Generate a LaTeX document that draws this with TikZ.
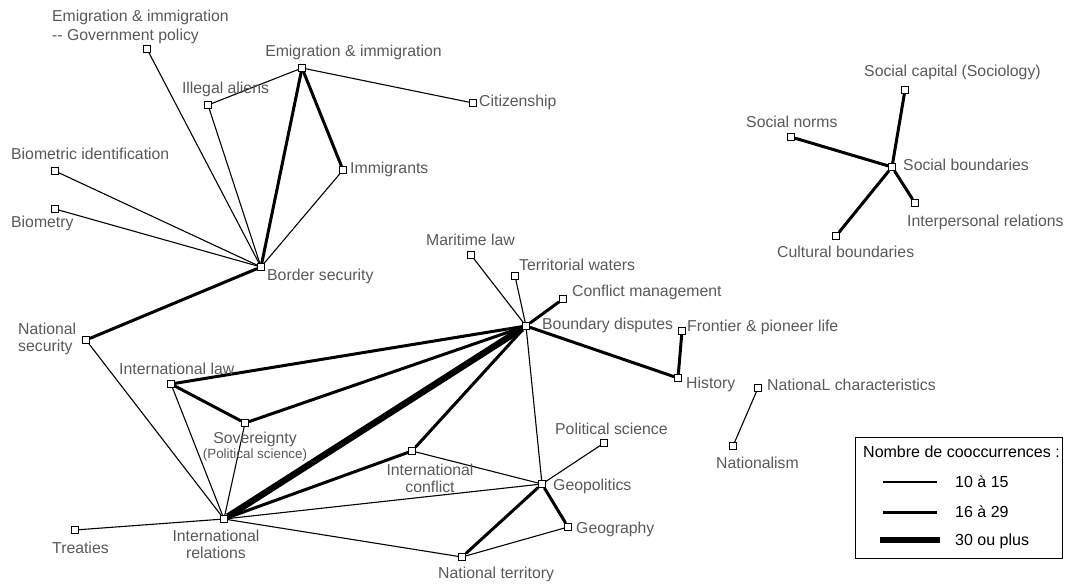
\documentclass[tikz,border=0pt]{standalone}
\usepackage{fontspec}
\setmainfont{Liberation Sans}
\definecolor{lbl}{gray}{0.35}
\begin{document}
\begin{tikzpicture}[x=1pt,y=-1pt,
  sq/.style={draw=black, fill=white, line width=0.8pt, minimum size=7pt, inner sep=0pt},
  lab/.style={text=lbl, font=\fontsize{15.8}{17}\selectfont, inner sep=0pt, text height=11pt, text depth=1pt, anchor=west},
  labm/.style={text=lbl, font=\fontsize{15.8}{17}\selectfont, inner sep=0pt},
  leg/.style={text=black, font=\fontsize{16}{18}\selectfont, inner sep=0pt, text height=11pt, text depth=1pt, anchor=west},
  ea/.style={line width=1.1pt},
  eb/.style={line width=3pt},
  ec/.style={line width=6.5pt},
]
\useasboundingbox (0,0) rectangle (1067,585);

% squares
\node[sq] (eg) at (147,49) {};
\node[sq] (em) at (302,68) {};
\node[sq] (ia) at (208,105) {};
\node[sq] (ci) at (473,103) {};
\node[sq] (bi) at (55,171) {};
\node[sq] (im) at (343,170) {};
\node[sq] (bm) at (55,209) {};
\node[sq] (bs) at (261,267) {};
\node[sq] (ns) at (86,340) {};
\node[sq] (il) at (171,384) {};
\node[sq] (so) at (245,423) {};
\node[sq] (ir) at (224,519) {};
\node[sq] (tr) at (75,530) {};
\node[sq] (ml) at (471,255) {};
\node[sq] (tw) at (515,276) {};
\node[sq] (cm) at (563,299) {};
\node[sq] (bd) at (526,326) {};
\node[sq] (fr) at (682,331) {};
\node[sq] (hi) at (678,378) {};
\node[sq] (nc) at (758,388) {};
\node[sq] (nm) at (733,446) {};
\node[sq] (ps) at (604,443) {};
\node[sq] (ic) at (412,451) {};
\node[sq] (gp) at (542,484) {};
\node[sq] (gg) at (568,527) {};
\node[sq] (nt) at (462,557) {};
\node[sq] (sc) at (905,90) {};
\node[sq] (sn) at (791,137) {};
\node[sq] (sb) at (892,167) {};
\node[sq] (ip) at (915,203) {};
\node[sq] (cb) at (836,236) {};

% thin edges
\draw[ea] (eg) -- (bs);
\draw[ea] (ia) -- (bs);
\draw[ea] (em) -- (ia);
\draw[ea] (em) -- (ci);
\draw[ea] (im) -- (bs);
\draw[ea] (bi) -- (bs);
\draw[ea] (bm) -- (bs);
\draw[ea] (ns) -- (ir);
\draw[ea] (il) -- (ir);
\draw[ea] (so) -- (ir);
\draw[ea] (tr) -- (ir);
\draw[ea] (ir) -- (gp);
\draw[ea] (ir) -- (nt);
\draw[ea] (ml) -- (bd);
\draw[ea] (tw) -- (bd);
\draw[ea] (bd) -- (gp);
\draw[ea] (ic) -- (gp);
\draw[ea] (gg) -- (nt);
\draw[ea] (ps) -- (gp);
\draw[ea] (nc) -- (nm);

% medium edges
\draw[eb] (em) -- (bs);
\draw[eb] (em) -- (im);
\draw[eb] (bs) -- (ns);
\draw[eb] (il) -- (bd);
\draw[eb] (il) -- (so);
\draw[eb] (so) -- (bd);
\draw[eb] (ic) -- (bd);
\draw[eb] (bd) -- (cm);
\draw[eb] (bd) -- (hi);
\draw[eb] (hi) -- (fr);
\draw[eb] (ir) -- (ic);
\draw[eb] (gp) -- (gg);
\draw[eb] (gp) -- (nt);
\draw[eb] (sb) -- (sc);
\draw[eb] (sb) -- (sn);
\draw[eb] (sb) -- (ip);
\draw[eb] (sb) -- (cb);

% thick edge
\draw[ec] (ir) -- (bd);

% labels
\node[labm, anchor=west, align=left] (leg1) at (52,27) {Emigration \& immigration\\[2pt]-{}- Government policy};
\node[lab, anchor=center] (lem) at (353.5,52) {Emigration \& immigration};
\node[lab, anchor=center] (lia) at (225.5,89) {Illegal aliens};
\node[lab] (lci) at (479,102) {Citizenship};
\node[lab] (lbi) at (11,155) {Biometric identification};
\node[lab] (lim) at (350,169) {Immigrants};
\node[lab] (lbm) at (11,223) {Biometry};
\node[lab] (lbs) at (267,275) {Border security};
\node[labm, anchor=west, align=left] (lns) at (18,339) {National\\security};
\node[lab] (lil) at (119,369) {International law};
\node[labm, align=center] (lso) at (255,447) {Sovereignty\\[-2pt]{\fontsize{13.4}{15}\selectfont (Political science)}};
\node[labm, align=center] (lir) at (216,544.5) {International\\relations};
\node[lab] (ltr) at (52,548) {Treaties};
\node[lab] (lml) at (426,241) {Maritime law};
\node[lab] (ltw) at (519,265) {Territorial waters};
\node[lab] (lcm) at (572,291) {Conflict management};
\node[lab] (lbd) at (542,324) {Boundary disputes};
\node[lab] (lfr) at (687,326) {Frontier \& pioneer life};
\node[lab] (lhi) at (686,383) {History};
\node[lab] (lnc) at (767,385) {NationaL characteristics};
\node[lab] (lnm) at (716,463) {Nationalism};
\node[lab] (lps) at (555,429) {Political science};
\node[labm, align=center] (lic) at (430,478.5) {International\\conflict};
\node[lab] (lgp) at (553,485) {Geopolitics};
\node[lab] (lgg) at (576,528) {Geography};
\node[lab] (lnt) at (438,573) {National territory};
\node[lab] (lsc) at (864,72) {Social capital (Sociology)};
\node[lab] (lsn) at (746,123) {Social norms};
\node[lab] (lsb) at (903,166) {Social boundaries};
\node[lab] (lip) at (907,222) {Interpersonal relations};
\node[lab] (lcb) at (777,253) {Cultural boundaries};

% legend
\node[draw=black, line width=0.8pt, minimum width=207pt, minimum height=121pt, inner sep=0pt, anchor=north west] (lg) at (855,437) {};
\node[leg] (lgt) at (863,452) {Nombre de cooccurrences :};
\coordinate (a1) at (883,482); \coordinate (b1) at (937,482);
\coordinate (a2) at (883,512); \coordinate (b2) at (937,512);
\coordinate (a3) at (880,540); \coordinate (b3) at (940,540);
\draw[ea] (a1) -- (b1);
\draw[eb] (a2) -- (b2);
\draw[ec] (a3) -- (b3);
\node[leg] (lg1) at (955,482) {10 à 15};
\node[leg] (lg2) at (955,512) {16 à 29};
\node[leg] (lg3) at (955,540) {30 ou plus};
\end{tikzpicture}
\end{document}
